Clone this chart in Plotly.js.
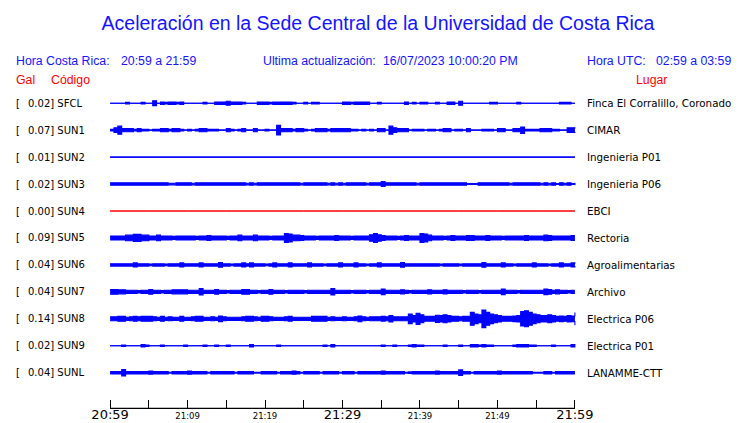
<!DOCTYPE html>
<html>
<head>
<meta charset="utf-8">
<script src="https://cdn.plot.ly/plotly-3.0.1.min.js"></script>
<style>html,body{margin:0;padding:0;background:#fff}#chart{width:740px;height:423px}</style>
</head>
<body>
<div id="chart"></div>
<script>
// ---------------- DATA ----------------
const stationCodes = ['SFCL','SUN1','SUN2','SUN3','SUN4','SUN5','SUN6','SUN7','SUN8','SUN9','SUNL'];
const peakGal = [0.02,0.07,0.01,0.02,0.00,0.09,0.04,0.04,0.14,0.02,0.04];
const places = ['Finca El Corralillo, Coronado','CIMAR','Ingenieria P01','Ingenieria P06','EBCI','Rectoria',
                'Agroalimentarias','Archivo','Electrica P06','Electrica P01','LANAMME-CTT'];
const tickMinutes = [0,5,10,15,20,25,30,35,40,45,50,55,60];
const tickLabels = ['20:59','','21:09','','21:19','','21:29','','21:39','','21:49','','21:59'];

// envelope half-width (display px) of each trace, one value per 30 s from 20:59 to 21:59
const envSFCL = [0,0,0,0,1,0,0,0,1,0, 0,3,0,1.5,1,1.5,1.5,1,1.5,0, 0,0,0,0,1,0,0,1.5,1.5,1.5,
  2.5,1.5,1.5,1.5,1,0,0,0,1.5,1.5, 1.5,1,1.5,1.5,1.5,1.5,1.5,1,0,0, 1,0,1,1,0,0,0,0,0,0,
  1.5,1.5,1,1.5,1.5,1.5,1.5,0,0,1, 0,0,0,0,0,0,1.5,0,1,0, 1,1,0,0,1,0,0,1.5,1.5,0,
  2.5,0,0,0,0,0,0,0,1,1, 0,0,0,0,0,1,0,0,0,0, 0,0,0,0,0,0,1,1,1,0, 0];
const envSUN1 = [1,3,5,2,2,2,1,2,1,1, 0,1,1,2,2,1,2,2,1,0, 1,0,1,2,2,1,1,1,0,0,
  2,1,0,1,2,0,0,2,0,0, 1,0,0,6,2,2,2,1,2,2, 1,0,1,2,2,2,1,2,2,2,
  2,2,1,1,0,1,0,1,0,2, 2,0,5,3,2,2,2,0,1,1, 1,0,1,1,0,1,2,2,0,1,
  1,0,2,0,0,0,1,1,1,0, 2,2,0,0,2,2,4,1,1,1, 1,2,2,2,1,1,0,0,3,3, 2];
const envSUN2 = [0,0,0,0,0,0,0,0,0,0,0,0,0];
const envSUN3 = [1.5,1.5,1.5,1.5,1.5,1.5,1.5,1.5,1.5,1.5, 1.5,1.5,1.5,1.5,1.5,1,1,1.5,1.5,1.5,
  1.5,1,1.5,1.5,1.5,1.5,1.5,1.5,1.5,1.5, 1.5,1.5,1.5,1.5,1.5,1,1.5,1,1.5,1.5,
  1.5,1.5,1.5,1.5,1.5,1.5,1.5,1.5,1.5,1, 1.5,1.5,1.5,1.5,1.5,1.5,1,1.5,1,1.5,
  1,1.5,1.5,1.5,1.5,1.5,1,1.5,1.5,1.5, 3,1.5,1.5,1.5,1.5,1.5,1.5,1.5,1.5,1,
  1.5,1.5,1.5,1.5,1.5,1.5,1.5,1.5,1.5,1.5, 1.5,1.5,0.5,0.5,0.5,1.5,1.5,1.5,1.5,1.5,
  1.5,1.5,1.5,1,1.5,1.5,1.5,1.5,1.5,1.5, 1.5,1,1.5,1,1.5,0.5,1.5,1,1.5,0.5, 1.5];
const envSUN4 = [0,0,0,0,0,0,0,0,0,0,0,0,0];
const envSUN5 = [2.5,2.5,2.5,2.5,3.5,3.5,4.5,4.5,3.5,3.5, 2.5,2.5,3.5,2.5,2.5,2.5,2,2.5,2.5,2.5,
  2.5,2.5,2,2.5,2.5,3,2.5,2.5,2.5,2.5, 2,2.5,2.5,3.5,2.5,2.5,2.5,3.5,2.5,2.5,
  2.5,2,2.5,2.5,2.5,5.5,5,3.5,3.5,3, 2.5,2.5,2.5,2,2.5,2.5,2.5,2.5,3,2.5,
  2.5,2.5,2,2.5,2.5,2.5,2.5,4,5.5,4, 3,2.5,2.5,2.5,2,2.5,3,2.5,2.5,2.5,
  5.5,5,3.5,2.5,2.5,2.5,2,2.5,3,2.5, 2.5,2.5,3,3,2.5,2.5,2.5,3,2.5,2.5,
  2.5,2,2.5,2.5,2.5,2.5,2.5,3,2.5,2.5, 2.5,2.5,3.5,3,2.5,2.5,2.5,2.5,2.5,3, 3];
const envSUN6 = [1.5,1.5,1.5,1.5,1.5,1.5,2.5,1.5,1.5,1.5, 1,1.5,1.5,1.5,1,1.5,1.5,1.5,2.5,1.5,
  1.5,1.5,1.5,2.5,1.5,1.5,1.5,1.5,3,1.5, 1.5,1,1.5,1.5,2.5,1.5,2.5,1.5,1.5,1.5,
  1,1.5,2.5,1.5,1.5,1.5,2.5,1.5,1.5,1.5, 1.5,2.5,1.5,1.5,1.5,1,1.5,1.5,1.5,2.5,
  1.5,1.5,1.5,2.5,1.5,1.5,1,1.5,1.5,2.5, 1.5,1.5,1.5,1.5,1.5,3,1.5,1.5,1.5,1.5,
  1.5,1.5,1.5,1.5,1.5,1,1.5,1.5,1.5,1.5, 1,1.5,1.5,1.5,1.5,1.5,3,1.5,1.5,1.5,
  1.5,2.5,1.5,1.5,1,1.5,1.5,1.5,1.5,2.5, 1.5,1.5,1.5,1,1.5,1.5,2.5,1.5,1.5,2.5, 1.5];
const envSUN7 = [3,3,2.5,2.5,2,2,2,1.5,2,2, 3,2,2,1.5,2,2,2.5,2.5,2.5,2.5,
  2,2,2,4,2,2,2,3,2,2, 1.5,2,2,2,3,3,2,2,1.5,2,
  2,3,2,2,2,1.5,2,2,2,2, 1.5,2,2,2,2,2,2,4,2,2,
  2,2,1.5,2,2,2,1.5,2,2,2, 3.5,2,2,2,2,2.5,2,1.5,2,2,
  2,2,2.5,2,2,2,2.5,2,2,2, 2,1.5,2,2,2,1.5,2,2,2,2,
  2,3.5,2,2,2,1.5,2,2,2,2, 2,2,3.5,3,2,2.5,2,2,1.5,2, 2];
const envSUN8 = [2.5,2.5,3,3,2,2.5,3,2.5,3,3, 3,2.5,2,3,2,2.5,2,2,3,2,
  2,2.5,3,3,2,2,2.5,2,3.5,2.5, 2,2,2,2,2.5,3,3,2.5,2,3,
  3,2.5,2,2,2,2.5,3,2,2,2, 2,2,3,3,3,3,2,2.5,2,2,
  2.5,2,2,2.5,3.5,2.5,2,2.5,2.5,2.5, 3,2.5,4,2.5,2.5,2.5,2.5,6,4,7,
  5,3,3,3,4.5,4,5,4,3,3, 2.5,3,3,8,6,5,11,8,6,5,
  4,3,3,3,3.5,4,9,10,8,6, 5,4,4,5,4,3,3.5,3,4,3.5, 8];
const envSUN9 = [0,0,0,1,0,0,0,0,1.5,1, 0,0,0,1,0,0,0,0,0,1, 0,0,0,0,1,0,0,1,0,0,
  1,0,0,0,0,0,1.5,0,0,0, 0,0,0,1,0,0,0,0,0,0, 0,0,0,0,0,1,0,1.5,0,0,
  0,0,0,0,0,0,0,0,0,0, 1,0,0,1,0,0,0,1,1.5,1, 1,0,0,0,0,0,1,0,0,0,
  1,0,0,1.5,1.5,1,1.5,1,1,0, 0,0,0,0,1,1.5,1.5,1.5,1,1, 0,0,0,0,1,0,0,0,0,1.5, 0];
const envSUNL = [1.5,1.5,1.5,4,1.5,1.5,1.5,1.5,1.5,1.5, 2,1.5,1.5,1.5,1.5,0.5,1.5,1.5,1.5,1.5,
  2,1.5,1.5,1.5,1.5,0.5,1.5,1.5,1.5,1.5, 1.5,1.5,0.5,1.5,1.5,1.5,1.5,0.5,0.5,1.5,
  1.5,1.5,1.5,0.5,1.5,1.5,1.5,2,1.5,0.5, 1.5,1.5,1.5,1.5,0.5,1.5,1.5,1.5,1.5,0.5,
  1.5,1.5,1.5,0.5,1.5,1.5,1.5,1.5,1.5,1.5, 2,1.5,1.5,1.5,1.5,1.5,0.5,1,1.5,1.5,
  1.5,1.5,1.5,1.5,2,1.5,1.5,1.5,1.5,1.5, 3.5,1.5,1.5,0.5,1.5,1.5,1.5,1.5,1.5,1.5,
  2,1.5,1.5,1.5,1.5,1.5,1.5,1.5,1.5,0.5, 0.5,0.5,1.5,1.5,0.5,1.5,1.5,1.5,1.5,1.5, 1.5];
const envelopes = [envSFCL,envSUN1,envSUN2,envSUN3,envSUN4,envSUN5,envSUN6,envSUN7,envSUN8,envSUN9,envSUNL];

// ---------------- LAYOUT / DRAWING ----------------
const W = 740, H = 423;
const X0 = 110, X1 = 574.5;                   // pixel positions of 20:59 and 21:59
const PXMIN = (X1 - X0) / 60;                 // px per minute
const XPAD = 0.4;                             // minutes of padding each side of the axis range
const PL = X0 - XPAD * PXMIN, PR = X1 + XPAD * PXMIN, PT = 88, PB = 409;
const PW = PR - PL, PH = PB - PT;
const ROW0 = 15.2, ROWSTEP = 26.95;          // in plot-px units (y axis reversed)
const GAIN = 0.8;                             // display gain of the traces
const BLUE = '#0000ff', TXTBLUE = '#1414ff', RED = '#ff0000';
const APAD = 1.5;                             // annotation text inset compensation
const px2x = p => (p - PL) / PW;
const py2y = p => (PB - p) / PH;
const axl = p => px2x(p - APAD);
const axr = p => px2x(p + APAD);

const traces = [];
envelopes.forEach((env, k) => {
  const c = ROW0 + ROWSTEP * k;
  const n = env.length;
  const xs = env.map((_, i) => i * 60 / (n - 1));
  const col = stationCodes[k] === 'SUN4' ? RED : BLUE;
  const lw = stationCodes[k] === 'SUN4' ? 1 : 1.1;
  traces.push({x: xs, y: env.map(v => c - v * GAIN), mode: 'lines', type: 'scatter',
    line: {color: col, width: lw, shape: 'hv'}, hoverinfo: 'skip', showlegend: false});
  traces.push({x: xs, y: env.map(v => c + v * GAIN), mode: 'lines', type: 'scatter',
    line: {color: col, width: lw, shape: 'hv'}, fill: 'tonexty', fillcolor: col,
    hoverinfo: 'skip', showlegend: false});
});

const bigIdx = new Set([0, 6, 12]);
const tickText = tickLabels.map((t, i) =>
  bigIdx.has(i) ? '<span style="font-size:13px">' + t + '</span>' : t);

const ann = [];
const LBL = {family: 'DejaVu Sans', size: 10, color: '#000'};
const PLACEF = {family: 'DejaVu Sans', size: 10.3, color: '#000'};
stationCodes.forEach((code, k) => {
  const c = ROW0 + ROWSTEP * k;
  ann.push({xref: 'paper', yref: 'y', x: axl(15), y: c, text: '[', showarrow: false,
    xanchor: 'left', yanchor: 'middle', font: LBL});
  ann.push({xref: 'paper', yref: 'y', x: axl(27.5), y: c,
    text: peakGal[k].toFixed(2) + ']\u00A0' + code, showarrow: false,
    xanchor: 'left', yanchor: 'middle', font: LBL});
  ann.push({xref: 'paper', yref: 'y', x: axl(586.5), y: c, text: places[k], showarrow: false,
    xanchor: 'left', yanchor: 'middle', font: PLACEF});
});
const HF = {family: 'Liberation Sans', size: 12.3, color: TXTBLUE};
const RF = {family: 'Liberation Sans', size: 12.3, color: RED};
const hdr = [
  ['Hora Costa Rica:', 15, 61, 'left', HF],
  ['20:59 a 21:59', 120.5, 61, 'left', HF],
  ['Ultima actualización:', 262, 61, 'left', HF],
  ['16/07/2023 10:00:20 PM', 382.5, 61, 'left', HF],
  ['Hora UTC:', 586, 61, 'left', HF],
  ['02:59 a 03:59', 731, 61, 'right', HF],
  ['Gal', 15, 80.5, 'left', RF],
  ['Código', 50, 80.5, 'left', RF],
  ['Lugar', 667.5, 80.5, 'right', RF]
];
hdr.forEach(h => ann.push({xref: 'paper', yref: 'paper',
  x: h[3] === 'left' ? axl(h[1]) : axr(h[1]), y: py2y(h[2]), text: h[0],
  showarrow: false, xanchor: h[3], yanchor: 'middle', font: h[4]}));

const layout = {
  width: W, height: H,
  margin: {l: PL, r: W - PR, t: PT, b: H - PB, pad: 0},
  paper_bgcolor: '#fff', plot_bgcolor: '#fff',
  title: {text: 'Aceleración en la Sede Central de la Universidad de Costa Rica',
    font: {family: 'Liberation Sans', size: 19.5, color: TXTBLUE},
    x: 378 / W, xref: 'container', xanchor: 'center', y: 1 - 23 / H, yref: 'container', yanchor: 'middle'},
  xaxis: {range: [-XPAD, 60 + XPAD], showline: false, zeroline: false, showgrid: false,
    ticks: 'inside', ticklen: 9, tickwidth: 1, tickcolor: '#000',
    tickmode: 'array', tickvals: tickMinutes, ticktext: tickText,
    tickfont: {family: 'DejaVu Sans', size: 8.5, color: '#000'}, fixedrange: true},
  yaxis: {range: [PH, 0], visible: false, showgrid: false, zeroline: false, fixedrange: true},
  shapes: [{type: 'line', xref: 'x', yref: 'y', x0: 0, x1: 60, y0: PH - 0.7, y1: PH - 0.7,
    line: {color: '#000', width: 1.2}, layer: 'above'}],
  annotations: ann,
  showlegend: false
};
Plotly.newPlot('chart', traces, layout, {staticPlot: true, displayModeBar: false});
</script>
</body>
</html>
